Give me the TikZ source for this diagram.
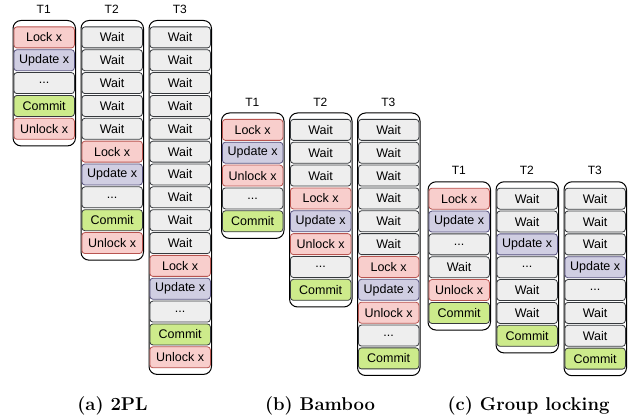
\documentclass[tikz,border=0pt]{standalone}
\usepackage{fontspec}
\newfontfamily\cellfont{Liberation Sans}
\newcommand\celldots{...}
\definecolor{redf}{HTML}{F8CECC}\definecolor{redd}{HTML}{B85450}
\definecolor{purf}{HTML}{D0CEE2}\definecolor{purd}{HTML}{56517E}
\definecolor{grnf}{HTML}{CDEB8B}\definecolor{grnd}{HTML}{36393D}
\definecolor{gryf}{HTML}{EEEEEE}\definecolor{gryd}{HTML}{36393D}
\tikzset{
 cellbox/.style={draw, rounded corners=3pt, minimum width=60.5pt, minimum height=21pt, inner sep=0pt, anchor=north west, font=\cellfont\fontsize{12.5}{14}\selectfont, line width=0.8pt},
 lockcell/.style={cellbox, fill=redf, draw=redd},
 updcell/.style={cellbox, fill=purf, draw=purd},
 comcell/.style={cellbox, fill=grnf, draw=grnd},
 waitcell/.style={cellbox, fill=gryf, draw=gryd},
 colbox/.style={draw=black, fill=white, rounded corners=8pt, line width=1pt, anchor=north west, minimum width=62.5pt, inner sep=0pt},
 tlabel/.style={font=\cellfont\fontsize{12}{14}\selectfont},
 captxt/.style={font=\fontsize{18.5}{22}\selectfont\bfseries, anchor=base}
}
% #1 name, #2 x, #3 top, #4 number of cells, #5 label, #6 cells
\newcommand\txncol[6]{%
  \node[colbox, minimum height={34pt+(#4-1)*22.85pt}] (#1) at (#2,#3) {};
  \node[tlabel] (#1-lab) at ({#2+31.25},{#3-10.5}) {#5};
  \foreach \s/\t [count=\i from 0] in {#6} {
    \node[\s] (#1-\i) at ({#2+1},{#3+6.5+\i*22.85}) {\t};
  }
}
\begin{document}
\begin{tikzpicture}[x=1pt,y=-1pt]
\useasboundingbox (0,0) rectangle (629,419);
% (a) 2PL
\txncol{a1}{12.5}{20}{5}{T1}{lockcell/Lock x, updcell/Update x, waitcell/\celldots, comcell/Commit, lockcell/Unlock x}
\txncol{a2}{80.5}{20}{10}{T2}{waitcell/Wait, waitcell/Wait, waitcell/Wait, waitcell/Wait, waitcell/Wait, lockcell/Lock x, updcell/Update x, waitcell/\celldots, comcell/Commit, lockcell/Unlock x}
\txncol{a3}{148.5}{20}{15}{T3}{waitcell/Wait, waitcell/Wait, waitcell/Wait, waitcell/Wait, waitcell/Wait, waitcell/Wait, waitcell/Wait, waitcell/Wait, waitcell/Wait, waitcell/Wait, lockcell/Lock x, updcell/Update x, waitcell/\celldots, comcell/Commit, lockcell/Unlock x}
% (b) Bamboo
\txncol{b1}{221}{112.5}{5}{T1}{lockcell/Lock x, updcell/Update x, lockcell/Unlock x, waitcell/\celldots, comcell/Commit}
\txncol{b2}{289}{112.5}{8}{T2}{waitcell/Wait, waitcell/Wait, waitcell/Wait, lockcell/Lock x, updcell/Update x, lockcell/Unlock x, waitcell/\celldots, comcell/Commit}
\txncol{b3}{357}{112.5}{11}{T3}{waitcell/Wait, waitcell/Wait, waitcell/Wait, waitcell/Wait, waitcell/Wait, waitcell/Wait, lockcell/Lock x, updcell/Update x, lockcell/Unlock x, waitcell/\celldots, comcell/Commit}
% (c) Group locking
\txncol{c1}{427.5}{181.3}{6}{T1}{lockcell/Lock x, updcell/Update x, waitcell/\celldots, waitcell/Wait, lockcell/Unlock x, comcell/Commit}
\txncol{c2}{495.5}{181.3}{7}{T2}{waitcell/Wait, waitcell/Wait, updcell/Update x, waitcell/\celldots, waitcell/Wait, waitcell/Wait, comcell/Commit}
\txncol{c3}{563.5}{181.3}{8}{T3}{waitcell/Wait, waitcell/Wait, waitcell/Wait, updcell/Update x, waitcell/\celldots, waitcell/Wait, waitcell/Wait, comcell/Commit}
% captions
\node[captxt] (capa) at (112.5,410) {(a) 2PL};
\node[captxt] (capb) at (320,410) {(b) Bamboo};
\node[captxt] (capc) at (528.5,410) {(c) Group locking};
\end{tikzpicture}
\end{document}
